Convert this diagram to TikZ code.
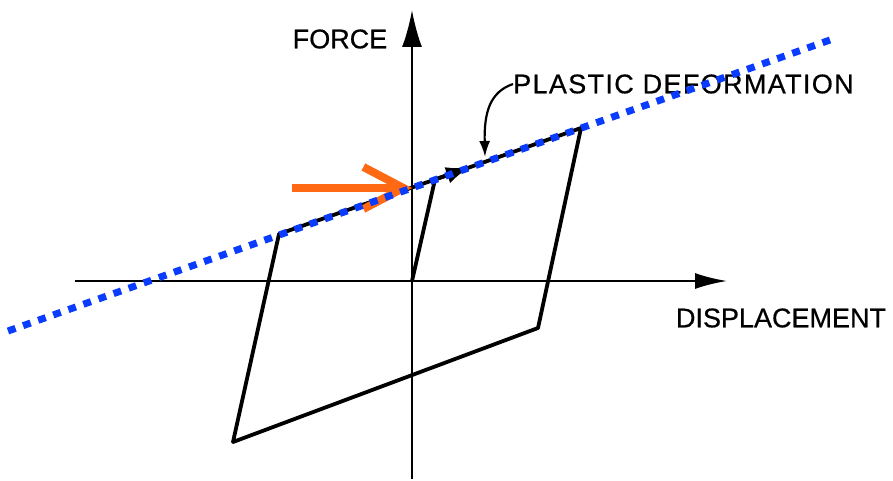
\documentclass[tikz,border=0pt]{standalone}
\usepackage{fontspec}
\setmainfont{Liberation Sans}[FakeBold=0.6]
\usetikzlibrary{calc, arrows.meta}

\definecolor{plasticblue}{RGB}{10,60,255}
\definecolor{markorange}{RGB}{255,105,20}

\begin{document}
\begin{tikzpicture}[x=1pt, y=-1pt, line join=round,
    lbl/.style={font=\fontsize{27}{30}\selectfont, inner sep=0pt},
    axis/.style={line width=2.2pt},
    loop/.style={line width=3.8pt}]
  \useasboundingbox (0,0) rectangle (893,481);
  \coordinate (O) at (412,281);
  \coordinate (Ytop) at (412,10);
  \coordinate (Ybot) at (412,479);
  \coordinate (Xl) at (75,281);
  \coordinate (Xr) at (727,281);
  \coordinate (A) at (435,179.5);
  \coordinate (B) at (581,128);
  \coordinate (C) at (538,328);
  \coordinate (D) at (233,442);
  \coordinate (E) at (279,234);
  \coordinate (P) at (8,331);
  \coordinate (Q) at (830,40);
  \coordinate (M) at (292,188);
  \coordinate (N) at (412,188);

  \draw[axis, -{Latex[length=37pt,width=20pt]}] (Ybot) -- (Ytop);
  \draw[axis, -{Latex[length=32pt,width=16pt]}] (Xl) -- (Xr);

  \draw[loop] (O) -- (A) -- (B) -- (C) -- (D) -- (E) -- (A);
  \draw[loop, -{Latex[length=24pt,width=17pt]}] (A) -- ($(A)!0.24!(B)$);

  \node[lbl] (force) at (340,39) {FORCE};
  \node[lbl] (disp) at (781,318) {DISPLACEMENT};
  \node[lbl, anchor=west, font=\fontsize{27}{30}\selectfont\addfontfeature{LetterSpace=5}]
    (plastic) at (513,84) {PLASTIC DEFORMATION};
  \draw[line width=2.2pt, -{Latex[length=16pt,width=11pt]}]
    (plastic.west) .. controls (490,92) and (484,112) .. (485,157);

  % orange pointer and dotted plastic line
  \draw[markorange, line width=8pt,
    -{Straight Barb[length=40pt,width=42pt,line width=8pt]}] (M) -- (N);
  \draw[plasticblue, line width=7pt, dash pattern=on 8pt off 8pt] (P) -- (Q);
\end{tikzpicture}
\end{document}
